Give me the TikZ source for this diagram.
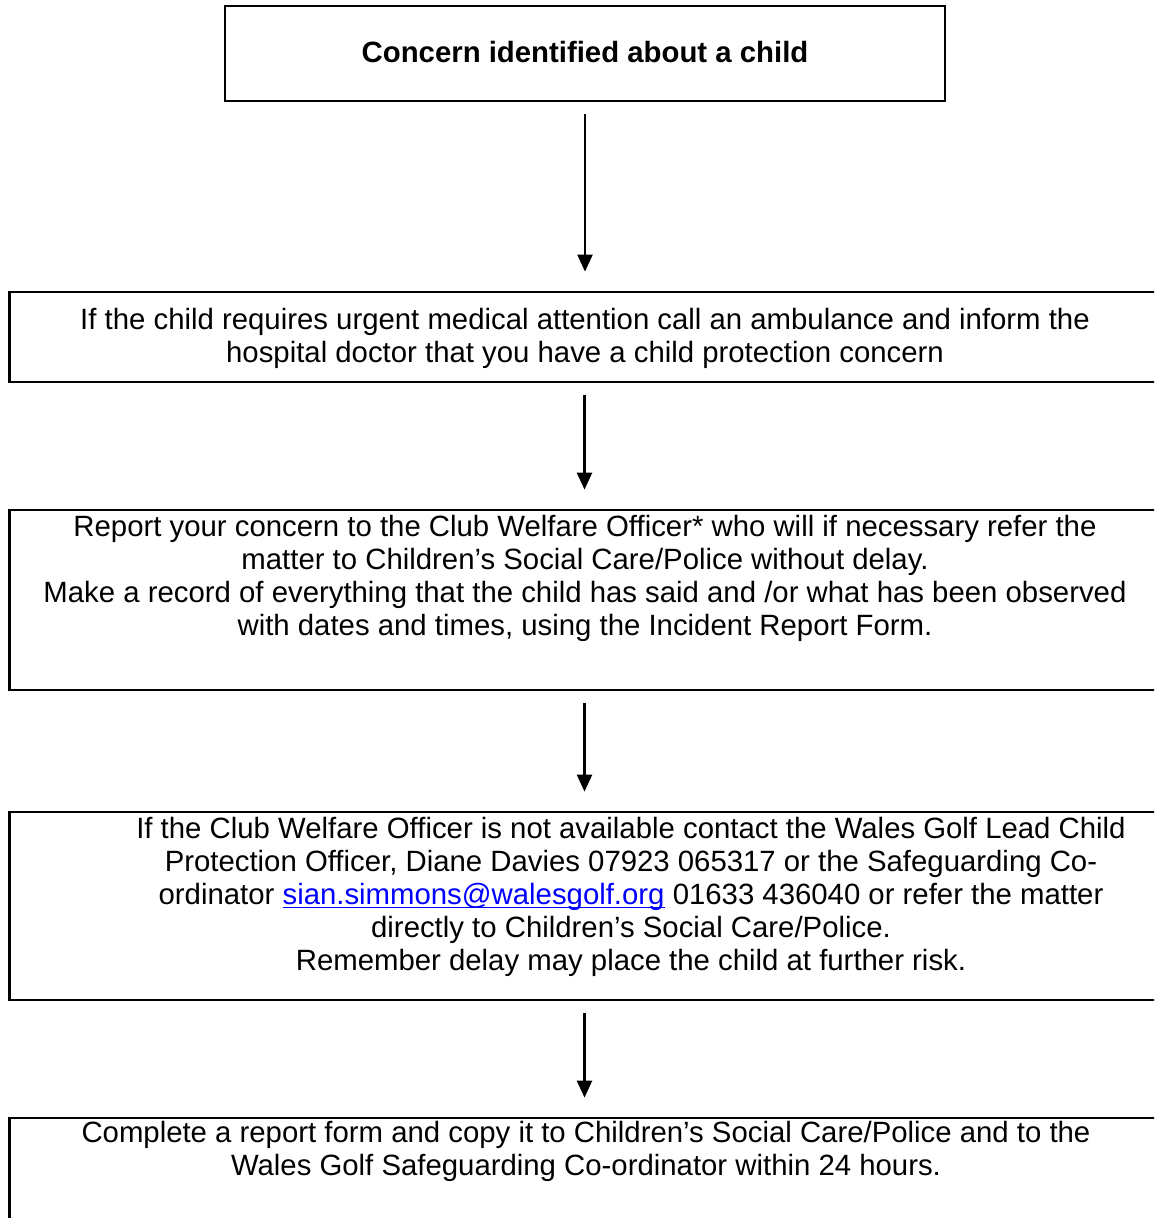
\documentclass[tikz,border=0pt]{standalone}
\usepackage{fontspec}
\setmainfont{Liberation Sans}
\usetikzlibrary{arrows.meta}
\definecolor{linkblue}{RGB}{0,0,255}

\begin{document}
\begin{tikzpicture}[x=0.02cm,y=-0.02cm,
        box/.style={draw,line width=1.6pt,inner sep=0pt},
        txt/.style={align=center,font=\fontsize{16.7}{18.8}\selectfont},
        arrow/.style={line width=1.3pt,-{Triangle[length=0.34cm,width=0.3cm]},
            shorten <=0.24cm,shorten >=0.38cm}]
        \useasboundingbox (0,0) rectangle (1154,1218);
        \clip (0,0) rectangle (1154,1218);
        % boxes
        \node[box,minimum width=14.4cm,minimum height=1.9cm] (b1) at (585,53.5) {};
        \node[box,minimum width=23.02cm,minimum height=1.8cm] (b2) at (584.5,337) {};
        \node[box,minimum width=23.02cm,minimum height=3.6cm] (b3) at (584.5,600) {};
        \node[box,minimum width=23.02cm,minimum height=3.76cm] (b4) at (584.5,906) {};
        \node[box,minimum width=23.02cm,minimum height=2.44cm] (b5) at (584.5,1179) {};
        % texts
        \node[txt,font=\fontsize{16.7}{18.8}\selectfont\bfseries] (t1) at (585,52) {Concern identified about a child};
        \node[txt] (t2) at (585,338) {If the child requires urgent medical attention call an ambulance and inform the\\
            hospital doctor that you have a child protection concern};
        \node[txt] (t3) at (585,578) {Report your concern to the Club Welfare Officer* who will if necessary refer the\\
            matter to Children’s Social Care/Police without delay.\\
            Make a record of everything that the child has said and /or what has been observed\\
            with dates and times, using the Incident Report Form.};
        \node[txt] (t4) at (631,897) {If the Club Welfare Officer is not available contact the Wales Golf Lead Child\\
            Protection Officer, Diane Davies 07923 065317 or the Safeguarding Co-\\
            ordinator \textcolor{linkblue}{\underline{\smash{sian.simmons@walesgolf.org}}} 01633 436040 or refer the matter\\
            directly to Children’s Social Care/Police.\\
            Remember delay may place the child at further risk.};
        \node[txt] (t5) at (586,1151) {Complete a report form and copy it to Children’s Social Care/Police and to the\\
            Wales Golf Safeguarding Co-ordinator within 24 hours.};
        % arrows
        \draw[arrow] (b1.south) -- (b1.south |- b2.north);
        \draw[arrow] (b2.south) -- (b2.south |- b3.north);
        \draw[arrow] (b3.south) -- (b3.south |- b4.north);
        \draw[arrow] (b4.south) -- (b4.south |- b5.north);
\end{tikzpicture}
\end{document}
